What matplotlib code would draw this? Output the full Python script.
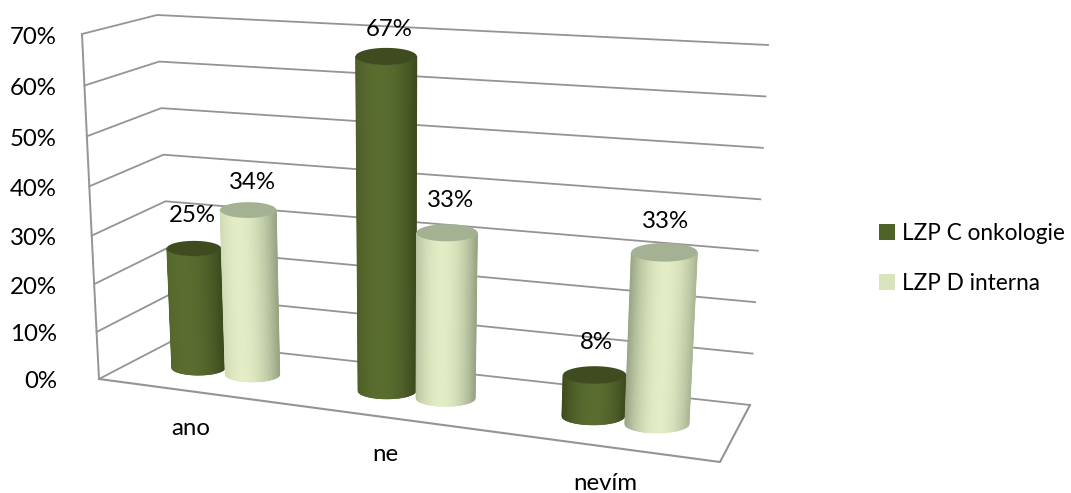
import numpy as np
import matplotlib
matplotlib.use('Agg')
import matplotlib.pyplot as plt
from matplotlib.collections import PolyCollection
from matplotlib.patches import Polygon, Patch
from matplotlib.colors import to_rgb

categories = ['ano', 'ne', 'nevím']
series_names = ['LZP C onkologie', 'LZP D interna']
onkologie = [25, 67, 8]
interna = [34, 33, 33]
ticks = [0, 10, 20, 30, 40, 50, 60, 70]

# corners of the 3d box in pixels: (u side, depth, height)
FL0, FL7 = np.array([99, 379.]), np.array([82, 34.])
BL0, BL7 = np.array([172, 341.]), np.array([157, 15.])
BR0, BR7 = np.array([750, 405.]), np.array([768, 45.])
FR0, FR7 = np.array([720, 462.]), np.array([743, 84.])
NCAT = len(categories)
VMAX = ticks[-1]

GRID = '#949494'
DARK = ('#3d4a1d', '#5a6d2f', '#3f4c1f')
LIGHT = ('#98a384', '#e2edc5', '#a4b192')

plt.rcParams['font.family'] = ['Lato', 'DejaVu Sans']
plt.rcParams['font.size'] = 17.3


def project(u, d, v):
    # u: 0..NCAT along the floor, d: 0 front .. 1 back, v: value
    a = u / NCAT
    b = v / VMAX
    front = (1 - a) * ((1 - b) * FL0 + b * FL7) + a * ((1 - b) * FR0 + b * FR7)
    back = (1 - a) * ((1 - b) * BL0 + b * BL7) + a * ((1 - b) * BR0 + b * BR7)
    p = (1 - d) * front + d * back
    # front wall is not quite linear in the original
    p[1] += 0.00375 * v * (VMAX - v) * (1 - d) * (1 - a)
    return p


def cylinder(ax, u, value, colors, z):
    ru = 0.13 + 0.012 * u
    base = project(u, 0.5, 0)
    top = project(u, 0.5, value)
    rx0 = (project(u + ru, 0.5, 0) - project(u - ru, 0.5, 0))[0] / 2
    rx1 = (project(u + ru, 0.5, value) - project(u - ru, 0.5, value))[0] / 2
    ry0, ry1 = 0.28 * rx0, 0.28 * rx1
    side, peak, top_col = [np.array(to_rgb(c)) for c in colors]
    t0 = -0.45 + 0.2 * u
    ts = np.linspace(-1, 1, 121)
    strips = []
    cols = []
    for t1, t2 in zip(ts[:-1], ts[1:]):
        s1, s2 = np.sqrt(1 - t1 ** 2), np.sqrt(1 - t2 ** 2)
        strips.append([(base[0] + rx0 * t1, base[1] + ry0 * s1),
                       (base[0] + rx0 * t2, base[1] + ry0 * s2),
                       (top[0] + rx1 * t2, top[1] + ry1 * s2),
                       (top[0] + rx1 * t1, top[1] + ry1 * s1)])
        k = (abs((t1 + t2) / 2 - t0) / (1 + abs(t0))) ** 2
        cols.append((1 - k) * peak + k * side)
    ax.add_collection(PolyCollection(strips, facecolors=cols, edgecolors=cols,
                                     linewidths=0.4, zorder=z))
    th = np.linspace(0, 2 * np.pi, 80)
    ell = np.column_stack([top[0] + rx1 * np.cos(th), top[1] + ry1 * np.sin(th)])
    ax.add_patch(Polygon(ell, closed=True, facecolor=top_col, edgecolor='none', zorder=z + 0.1))
    return top


fig = plt.figure(figsize=(10.71, 4.93), dpi=100)
ax = fig.add_axes([0, 0, 1, 1])
ax.set_xlim(0, 1071)
ax.set_ylim(493, 0)
ax.axis('off')

# walls
for v in ticks:
    pts = np.array([project(0, 0, v), project(0, 1, v), project(NCAT, 1, v)])
    ax.plot(pts[:, 0], pts[:, 1], color=GRID, lw=1.3, zorder=1)
    ax.text(57, pts[0, 1] + 3, f'{v}%', ha='right', va='center', color='black', zorder=8)
wall = np.array([project(0, 0, v) for v in ticks])
ax.plot(wall[:, 0], wall[:, 1], color=GRID, lw=1.4, zorder=1)
floor = np.array([project(0, 0, 0), project(NCAT, 0, 0), project(NCAT, 1, 0)])
ax.plot(floor[:, 0], floor[:, 1], color=GRID, lw=1.5, zorder=1)

# bars, left to right
centres = [0.45, 1.405, 2.45]
nudge_dark = [(-2, -33), (3, -27), (2, -33)]
nudge_light = [(4, -28), (4, -32), (1, -31)]
nudge_cat = [-1, -5, -1]
for i, cat in enumerate(categories):
    off = 0.13 + 0.012 * centres[i]
    top = cylinder(ax, centres[i] - off, onkologie[i], DARK, 2 + 2 * i)
    ax.text(top[0] + nudge_dark[i][0], top[1] + nudge_dark[i][1], f'{onkologie[i]}%',
            ha='center', va='center', zorder=8)
    top = cylinder(ax, centres[i] + off, interna[i], LIGHT, 3 + 2 * i)
    ax.text(top[0] + nudge_light[i][0], top[1] + nudge_light[i][1], f'{interna[i]}%',
            ha='center', va='center', zorder=8)
    low = project(centres[i], 0, 0)
    ax.text(low[0] + nudge_cat[i], low[1] + 37, cat, ha='center', va='center', zorder=8)

handles = [Patch(facecolor='#4f6228', label=series_names[0]),
           Patch(facecolor='#d7e4bd', label=series_names[1])]
ax.legend(handles=handles, loc='center left', bbox_to_anchor=(865 / 1071, 1 - 258.5 / 493),
          frameon=False, handlelength=0.72, handleheight=0.72, handletextpad=0.3,
          labelspacing=1.3, fontsize=16.3, borderpad=0, borderaxespad=0.6)

fig.savefig('out.png', dpi=100)
